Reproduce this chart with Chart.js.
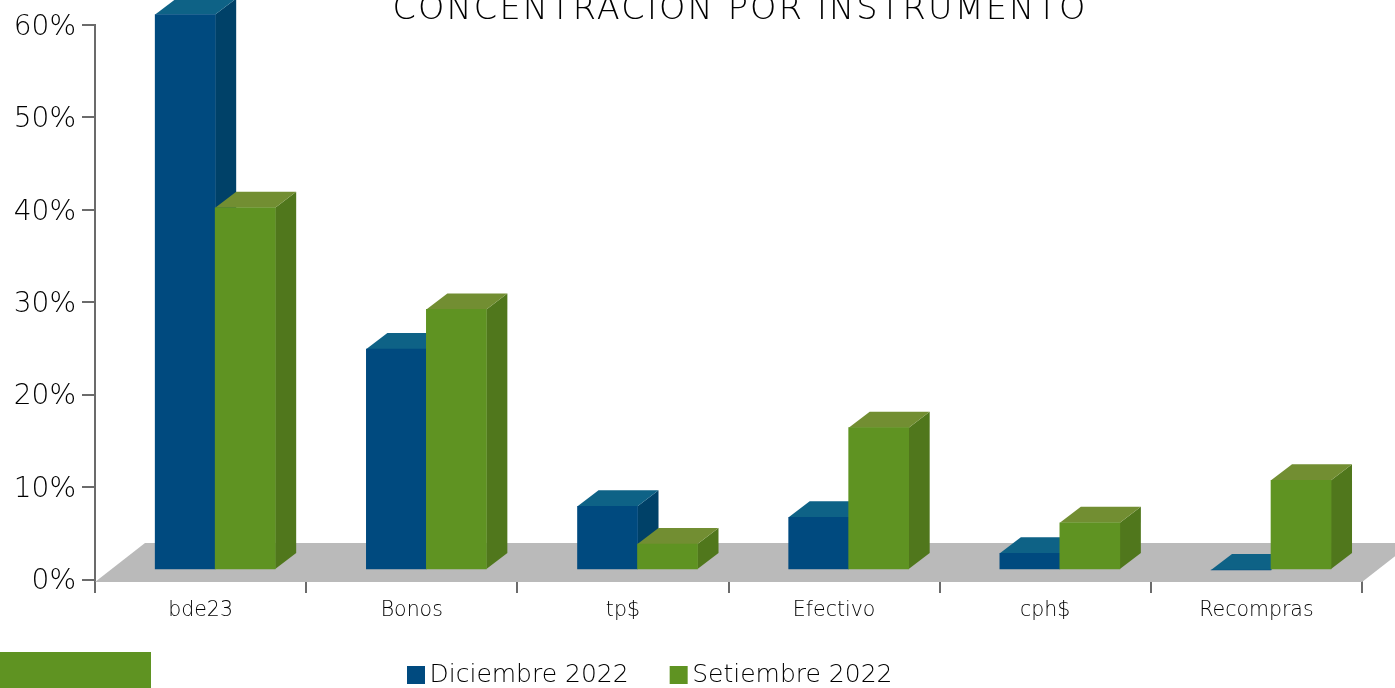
<!DOCTYPE html>
<html lang="es">
<head>
    <meta charset="UTF-8">
    <title>Concentración por instrumento</title>
    <style type="text/css">
        html, body { margin: 0; padding: 0; background: #fff; overflow: hidden; }
        .chartBox { position: relative; width: 1395px; height: 688px; }
        .greenBlock { position: absolute; left: 0; top: 652px; width: 151px; height: 36px; background: #5f9322; }
    </style>
</head>
<body>
    <div class="chartBox">
        <canvas id="myChart" width="1395" height="688"></canvas>
        <div class="greenBlock"></div>
    </div>
    <script src="https://cdn.jsdelivr.net/npm/chart.js"></script>
    <script>
    const categories = ['bde23', 'Bonos', 'tp$', 'Efectivo', 'cph$', 'Recompras'];
    const diciembre2022 = [60.1, 23.9, 6.9, 5.7, 1.8, 0];
    const setiembre2022 = [39.2, 28.2, 2.8, 15.4, 5.1, 9.7];
    const seriesNames = ['Diciembre 2022', 'Setiembre 2022'];
    const chartTitle = 'CONCENTRACION POR INSTRUMENTO';

    const FONT = '"DejaVu Sans"';
    const AXIS_COLOR = '#6b6b6b';
    const TEXT_COLOR = '#000';
    const ZERO_Y = 579.5;
    const LEGEND_PADDING = 49;
    // bars stand on the floor, a bit behind the axis line
    const BAR_SHIFT_X = 14.6, BAR_SHIFT_Y = -9.5;
    const DEPTH_X = 21, DEPTH_Y = -16;
    const faces = [
        { top: '#0e6286', side: '#004168' },
        { top: '#728e32', side: '#50771c' }
    ];

    function poly(ctx, color, pts) {
        ctx.fillStyle = color;
        ctx.beginPath();
        pts.forEach((p, i) => i ? ctx.lineTo(p[0], p[1]) : ctx.moveTo(p[0], p[1]));
        ctx.closePath();
        ctx.fill();
    }

    const bars3d = {
        id: 'bars3d',
        afterLayout(chart) {
            const t = chart.titleBlock, l = chart.legend;
            t.top = -2; t.left = 85; t.right = 1395;
            // the title runs wider than the font does
            if (!t.spaced) {
                const drawTitle = t.draw;
                t.draw = function () {
                    chart.ctx.save();
                    chart.ctx.letterSpacing = '2.2px';
                    drawTitle.call(t);
                    chart.ctx.restore();
                };
                t.spaced = true;
            }
            l.left = 415 - LEGEND_PADDING; l.right = 1395; l.width = 1395 - l.left; l.top = 662.5 - LEGEND_PADDING;
            // tick labels get clipped to the scale box, and the tall legend squeezes it
            chart.scales.x.bottom = chart.height;
            // DejaVu sits high on its middle baseline
            chart.scales.y.getLabelItems(chart.chartArea).forEach(item => {
                item.options.translation[1] += 2.5;
            });
        },
        beforeDatasetsDraw(chart) {
            const { ctx, scales: { x, y } } = chart;
            const y0 = y.getPixelForValue(0) + 2.5;
            poly(ctx, '#bababa', [[x.left, y0], [x.left + 50, y0 - 39], [x.right + 50, y0 - 39], [x.right, y0]]);
        },
        beforeDatasetDraw() {
            return false;
        },
        afterDatasetsDraw(chart) {
            const ctx = chart.ctx;
            ctx.save();
            ctx.translate(BAR_SHIFT_X, BAR_SHIFT_Y);
            chart.data.datasets.forEach((ds, i) => {
                chart.getDatasetMeta(i).data.forEach(bar => {
                    const p = bar.getProps(['x', 'y', 'base', 'width']);
                    const l = p.x - p.width / 2, r = p.x + p.width / 2;
                    poly(ctx, faces[i].side, [[r, p.y], [r + DEPTH_X, p.y + DEPTH_Y], [r + DEPTH_X, p.base + DEPTH_Y], [r, p.base]]);
                    poly(ctx, faces[i].top, [[l, p.y], [l + DEPTH_X, p.y + DEPTH_Y], [r + DEPTH_X, p.y + DEPTH_Y], [r, p.y]]);
                    bar.draw(ctx);
                });
            });
            ctx.restore();
        }
    };

    const ctx = document.getElementById('myChart').getContext('2d');
    const myChart = new Chart(ctx, {
        type: 'bar',
        data: {
            labels: categories,
            datasets: [{
                label: seriesNames[0],
                data: diciembre2022,
                backgroundColor: '#004a7f',
                borderWidth: 0,
                barThickness: 60
            }, {
                label: seriesNames[1],
                data: setiembre2022,
                backgroundColor: '#5f9322',
                borderWidth: 0,
                barThickness: 60
            }]
        },
        options: {
            responsive: false,
            animation: false,
            layout: { padding: { left: 0, right: 33, top: 0, bottom: 0 } },
            plugins: {
                tooltip: { enabled: false },
                title: {
                    display: true,
                    text: chartTitle,
                    color: TEXT_COLOR,
                    padding: 0,
                    font: { family: FONT, size: 33.5, weight: '200', lineHeight: 25 / 33.5 }
                },
                legend: {
                    position: 'bottom',
                    align: 'start',
                    labels: {
                        usePointStyle: true,
                        pointStyle: 'rect',
                        boxWidth: 2,
                        boxHeight: 18,
                        padding: LEGEND_PADDING,
                        color: TEXT_COLOR,
                        font: { family: FONT, size: 25, weight: '200' }
                    }
                }
            },
            scales: {
                x: {
                    offset: true,
                    afterFit(scale) {
                        scale.height = scale.chart.height - ZERO_Y - scale.chart.legend.height;
                    },
                    border: { display: false },
                    grid: { color: AXIS_COLOR, lineWidth: 2, drawOnChartArea: false, tickLength: 13.5, offset: true },
                    ticks: {
                        color: TEXT_COLOR,
                        padding: 5,
                        maxRotation: 0,
                        autoSkip: false,
                        font: { family: FONT, size: 20.5, weight: '200' }
                    }
                },
                y: {
                    min: 0,
                    max: 60,
                    afterFit(scale) {
                        scale.width = 95;
                    },
                    border: { color: AXIS_COLOR, width: 2 },
                    grid: { color: AXIS_COLOR, lineWidth: 2, drawOnChartArea: false, tickLength: 13 },
                    ticks: {
                        stepSize: 10,
                        color: TEXT_COLOR,
                        padding: 6,
                        font: { family: FONT, size: 28, weight: '200' },
                        callback: v => v + '%'
                    }
                }
            }
        },
        plugins: [bars3d]
    });
    </script>
</body>
</html>
